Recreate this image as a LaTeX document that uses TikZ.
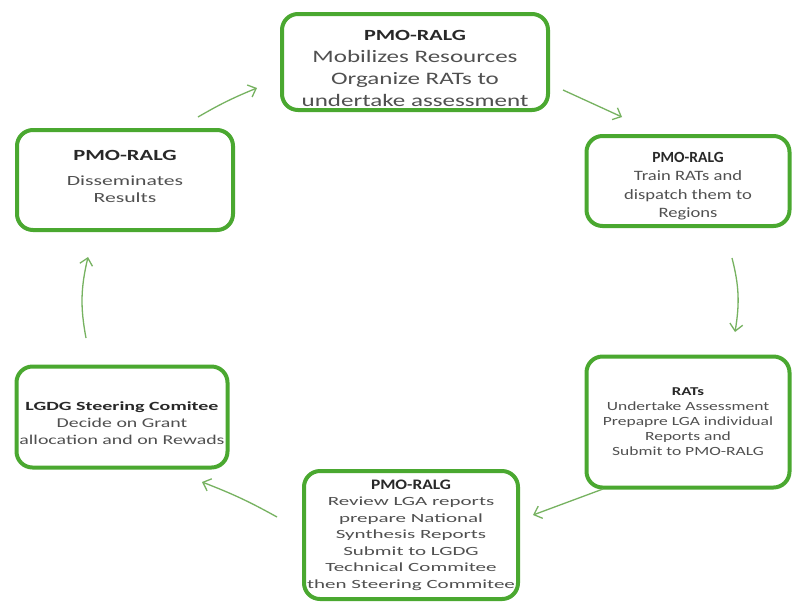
\documentclass[tikz,border=0pt]{standalone}
\usepackage{fontspec}
\setmainfont{Carlito}
\usetikzlibrary{arrows.meta,bending}
\definecolor{boxgreen}{RGB}{74,168,48}
\definecolor{arrgreen}{RGB}{118,178,96}
\definecolor{bodygrey}{RGB}{80,80,80}
\definecolor{hdgrey}{RGB}{40,40,40}
\newcommand\bodyfnt[3]{\fontsize{#1}{#2}\selectfont\addfontfeatures{FakeStretch=#3}}
\newcommand\hdtxt[3]{{\color{hdgrey}\fontsize{#1}{#1}\selectfont\bfseries\addfontfeatures{FakeStretch=#2}#3}}
\newcommand\topgap[1]{\rule{0pt}{#1}}
\newcommand\botgap[1]{\rule[-#1]{0pt}{#1}}
\begin{document}
\begin{tikzpicture}[x=1pt,y=-1pt,
  box/.style={draw=boxgreen,line width=4pt,rounded corners=16pt,fill=white,align=center,text=bodygrey,inner sep=0pt},
  arr/.style={draw=arrgreen,line width=1.3pt,-{Straight Barb[length=7pt,width=13pt]}}]
\useasboundingbox (0,0) rectangle (794,606);
\fill[white] (0,0) rectangle (794,606);

\node[box,minimum width=266pt,minimum height=96pt,font=\bodyfnt{17.5}{22}{1.43}] (b1) at (415,62)
  {\topgap{24pt}\hdtxt{15.5}{1.43}{PMO-RALG}\\Mobilizes Resources\\Organize RATs to\\undertake assessment};
\node[box,minimum width=203pt,minimum height=90pt,font=\bodyfnt{14.3}{18.5}{1.3}] (b2) at (688,181)
  {\topgap{20pt}\hdtxt{15.5}{1.0}{PMO-RALG}\\Train RATs and\\dispatch them to\\Regions};
\node[box,minimum width=203pt,minimum height=131pt,font=\bodyfnt{12.5}{15}{1.4}] (b3) at (688,422)
  {\hdtxt{12}{1.4}{RATs}\\Undertake Assessment\\Prepapre LGA individual\\Reports and\\Submit to PMO-RALG};
\node[box,minimum width=214pt,minimum height=128pt,font=\bodyfnt{12.5}{16.5}{1.68}] (b4) at (411,535)
  {\hdtxt{14.5}{1.2}{PMO-RALG}\\Review LGA reports\\prepare National\\Synthesis Reports\\Submit to LGDG\\Technical Commitee\\then Steering Commitee};
\node[box,minimum width=211pt,minimum height=101pt,font=\bodyfnt{13.5}{17}{1.47}] (b5) at (122,417)
  {\topgap{22pt}\hdtxt{12.5}{1.6}{LGDG Steering Comitee}\\Decide on Grant\\allocation and on Rewads};
\node[box,minimum width=216pt,minimum height=100pt,font=\bodyfnt{14}{17}{1.55}] (b6) at (125,180)
  {\hdtxt{15.5}{1.45}{PMO-RALG}\\[8pt]Disseminates\\Results\botgap{7pt}};

\coordinate (a1s) at (198,117); \coordinate (a1e) at (257,88);
\coordinate (a2s) at (563,90);  \coordinate (a2e) at (622,117);
\coordinate (a3s) at (732,258); \coordinate (a3e) at (735,332);
\coordinate (a4s) at (603,489); \coordinate (a4e) at (533,515);
\coordinate (a5s) at (277,517); \coordinate (a5e) at (202,482);
\coordinate (a6s) at (86,338);  \coordinate (a6e) at (88,257);

\draw[arr] (a1s) to[bend left=4] (a1e);
\draw[arr] (a2s) to (a2e);
\draw[arr] (a3s) to[bend left=12] (a3e);
\draw[arr] (a4s) to (a4e);
\draw[arr] (a5s) to[bend right=4] (a5e);
\draw[arr] (a6s) to[bend left=12] (a6e);
\end{tikzpicture}
\end{document}
